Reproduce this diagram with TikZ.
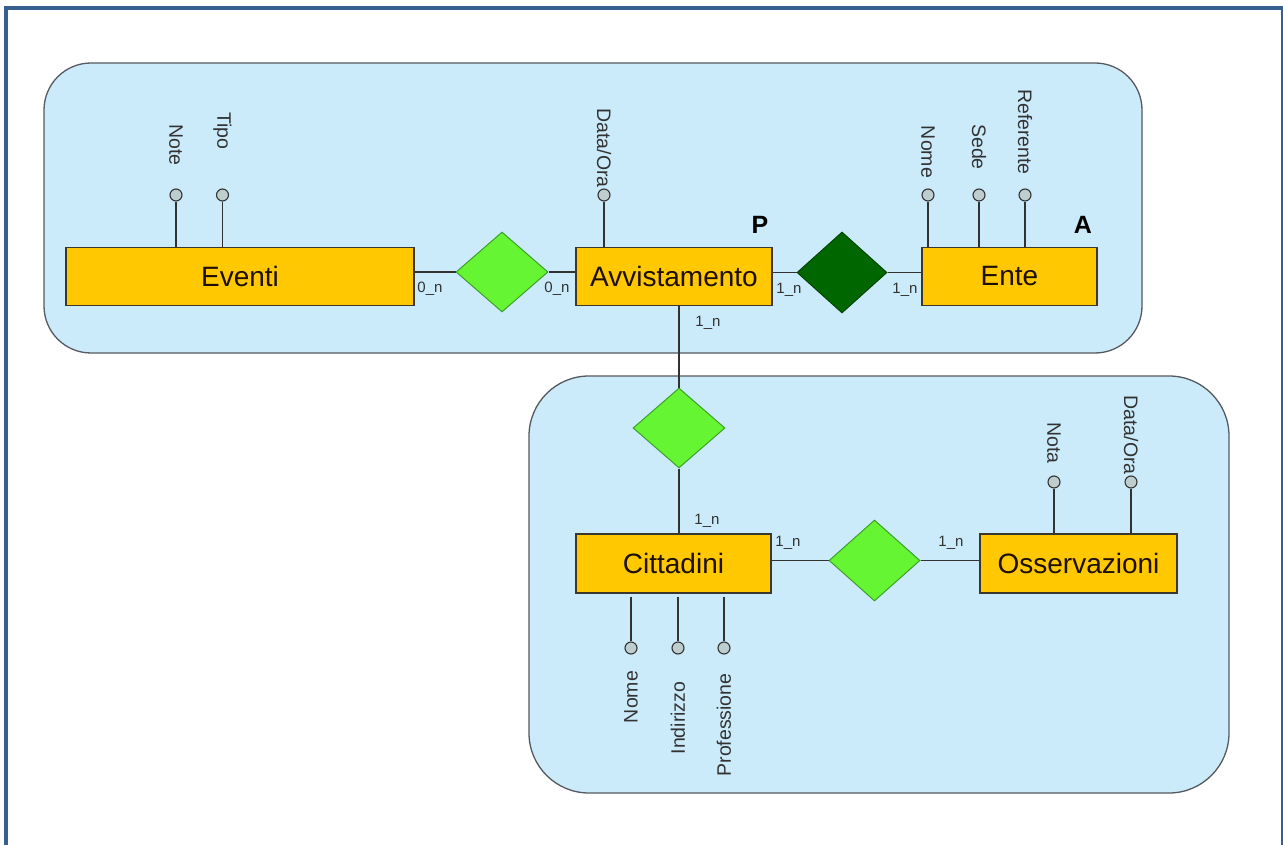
\documentclass[tikz,border=0pt]{standalone}
\usepackage{fontspec}
\setmainfont{Liberation Sans}
\usetikzlibrary{shapes.geometric}

\definecolor{framec}{RGB}{54,96,146}
\definecolor{panelc}{RGB}{204,235,250}
\definecolor{panelb}{RGB}{85,90,95}
\definecolor{entc}{RGB}{255,200,0}
\definecolor{entb}{RGB}{60,55,45}
\definecolor{relc}{RGB}{102,245,51}
\definecolor{relb}{RGB}{60,160,40}
\definecolor{reldc}{RGB}{0,102,0}
\definecolor{reldb}{RGB}{0,70,0}
\definecolor{attc}{RGB}{190,205,205}
\definecolor{linec}{RGB}{50,50,50}
\definecolor{txtc}{RGB}{30,15,0}

\begin{document}
\begin{tikzpicture}[x=1pt,y=-1pt,
  panel/.style={draw=panelb, fill=panelc, line width=1.3pt},
  entity/.style={draw=entb, fill=entc, line width=1.3pt, minimum height=58pt,
    inner sep=0pt, font=\fontsize{28}{30}\selectfont, text=txtc},
  relbox/.style={diamond, draw=relb, fill=relc, line width=1pt, inner sep=0pt,
    minimum width=92pt, minimum height=80pt},
  reldark/.style={relbox, draw=reldb, fill=reldc},
  attdot/.style={circle, draw=linec, fill=attc, line width=1.1pt, minimum size=12pt, inner sep=0pt},
  atttext/.style={font=\fontsize{19.5}{21}\selectfont, text=linec, inner sep=0pt},
  card/.style={font=\fontsize{15}{17}\selectfont, text=linec, inner sep=0pt},
  conn/.style={draw=linec, line width=1.3pt},
  pamark/.style={font=\fontsize{25}{27}\selectfont\bfseries, text=black, inner sep=0pt}
]
\clip (0,0) rectangle (1283,845);
\fill[white] (0,0) rectangle (1283,845);

% outer frame
\draw[framec, line width=4pt] (6,8) rectangle (1283,870);

% panels
\draw[panel, rounded corners=47pt] (44,63) rectangle (1142,353);
\draw[panel, rounded corners=60pt] (529,376) rectangle (1229,793);

% entities
\node[entity, minimum width=348pt] (ev) at (240,276.5) {Eventi};
\node[entity, minimum width=196pt] (av) at (674,276.5) {Avvistamento};
\node[entity, minimum width=175pt] (en) at (1009.5,276.5) {Ente};
\node[entity, minimum width=195pt, minimum height=59pt] (ci) at (673.5,563.5) {Cittadini};
\node[entity, minimum width=197pt, minimum height=59pt] (os) at (1078.5,563.5) {Osservazioni};

% relations
\node[relbox] (r1) at (502,272) {};
\node[reldark, minimum width=90pt, minimum height=81pt] (r2) at (842,272.5) {};
\node[relbox] (r3) at (679,428) {};
\node[relbox, minimum width=91pt, minimum height=81pt] (r4) at (874.5,560.5) {};

% connectors
\draw[conn] (ev.east |- r1) -- (r1.west);
\draw[conn] (r1.east) -- (av.west |- r1);
\draw[conn] (av.east |- r2) -- (r2.west);
\draw[conn] (r2.east) -- (en.west |- r2);
\draw[conn] (av.south -| r3) -- (r3.north);
\draw[conn] (r3.south) -- (ci.north -| r3);
\draw[conn] (ci.east |- r4) -- (r4.west);
\draw[conn] (r4.east) -- (os.west |- r4);

% cardinalities
\node[card] (k1) at (430,289) {0\_n};
\node[card] (k2) at (557,289) {0\_n};
\node[card] (k3) at (789,290) {1\_n};
\node[card] (k4) at (905,290) {1\_n};
\node[card] (k5) at (708,323) {1\_n};
\node[card] (k6) at (707,521) {1\_n};
\node[card] (k7) at (788,543) {1\_n};
\node[card] (k8) at (951,543) {1\_n};

% marks
\node[pamark] (mp) at (760,225) {P};
\node[pamark] (ma) at (1083,225) {A};

% attribute dots
\node[attdot] (a1) at (176,195) {};
\node[attdot] (a2) at (222.5,195) {};
\node[attdot] (a3) at (604,195) {};
\node[attdot] (a4) at (928,195) {};
\node[attdot] (a5) at (979,195) {};
\node[attdot] (a6) at (1025,195) {};
\node[attdot] (a7) at (1054,482) {};
\node[attdot] (a8) at (1131,482) {};
\node[attdot] (a9) at (631,648) {};
\node[attdot] (a10) at (678,648) {};
\node[attdot] (a11) at (724,648) {};

% attribute connectors
\draw[conn] (ev.north -| a1) -- (a1.south);
\draw[conn] (ev.north -| a2) -- (a2.south);
\draw[conn] (av.north -| a3) -- (a3.south);
\draw[conn] (en.north -| a4) -- (a4.south);
\draw[conn] (en.north -| a5) -- (a5.south);
\draw[conn] (en.north -| a6) -- (a6.south);
\draw[conn] (os.north -| a7) -- (a7.south);
\draw[conn] (os.north -| a8) -- (a8.south);
\draw[conn] ([yshift=-3pt]ci.south -| a9) -- (a9.north);
\draw[conn] ([yshift=-3pt]ci.south -| a10) -- (a10.north);
\draw[conn] ([yshift=-3pt]ci.south -| a11) -- (a11.north);

% attribute names
\node[atttext, rotate=-90] (t1) at (176,145) {Note};
\node[atttext, rotate=-90] (t2) at (222.5,131) {Tipo};
\node[atttext, rotate=-90] (t3) at (604,148) {Data/Ora};
\node[atttext, rotate=-90] (t4) at (928,152) {Nome};
\node[atttext, rotate=-90] (t5) at (979,147) {Sede};
\node[atttext, rotate=-90] (t6) at (1025,132) {Referente};
\node[atttext, rotate=-90] (t7) at (1054,443) {Nota};
\node[atttext, rotate=-90] (t8) at (1131,435) {Data/Ora};
\node[atttext, rotate=90] (t9) at (631,697) {Nome};
\node[atttext, rotate=90] (t10) at (678,718) {Indirizzo};
\node[atttext, rotate=90] (t11) at (724,725) {Professione};
\end{tikzpicture}
\end{document}
